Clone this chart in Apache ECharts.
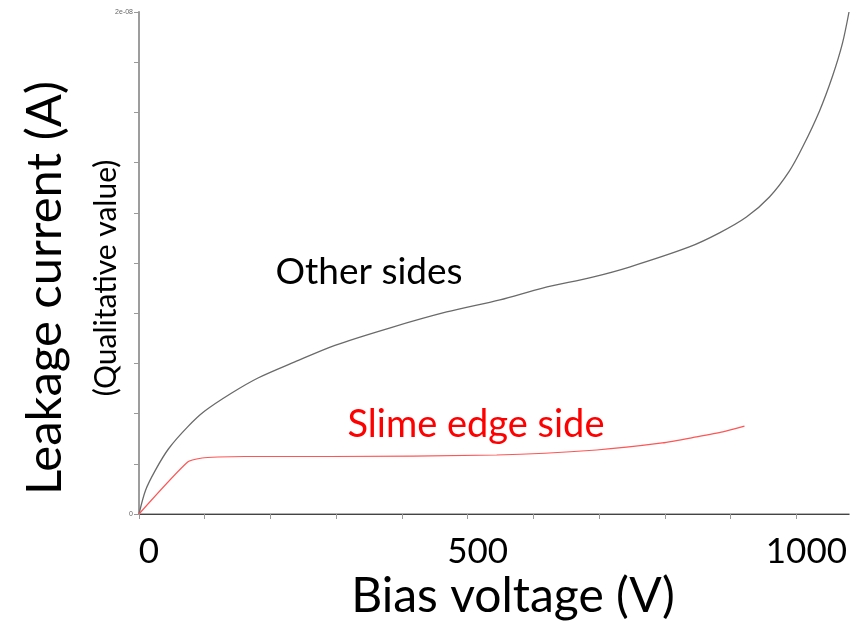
<!DOCTYPE html>
<html>
<head>
<meta charset="utf-8">
<script src="https://cdn.jsdelivr.net/npm/echarts@6/dist/echarts.min.js"></script>
<style>
  html, body { margin: 0; padding: 0; background: #fff; }
  #chart { width: 861px; height: 622px; }
</style>
</head>
<body>
<div id="chart"></div>
<script>
// bias voltage (V) / leakage current in units of 1e-9 A
const otherV = [0, 10, 25, 45, 74, 100, 141, 181, 237, 298, 381, 468, 549, 614, 690, 746, 837, 883, 924, 959, 989, 1010, 1035, 1055, 1070, 1080]
const otherI = [0, 0.95, 1.75, 2.6, 3.47, 4.10, 4.82, 5.42, 6.06, 6.72, 7.41, 8.05, 8.53, 9.0, 9.44, 9.84, 10.64, 11.2, 11.83, 12.63, 13.65, 14.65, 16.05, 17.45, 18.75, 20]

const slimV = [0, 74, 96, 120, 161, 290, 544, 696, 796, 848, 888, 921]
const slimI = [0, 2.07, 2.23, 2.27, 2.29, 2.29, 2.35, 2.55, 2.83, 3.07, 3.27, 3.5]

const xTickLabels = { 0: '0', 500: '500', 1000: '1000' }
const yTickLabels = { 0: '0', 20: '2e-08' }

const FONT = 'Lato, "Open Sans", sans-serif'

const chart = echarts.init(document.getElementById('chart'))

const zip = (xs, ys) => xs.map((x, i) => [x, ys[i]])

chart.setOption({
  animation: false,
  grid: { left: 139, right: 12, top: 12, bottom: 108 },
  xAxis: [
    {
      type: 'value',
      min: 0,
      max: 1080,
      interval: 100,
      axisLine: { lineStyle: { color: '#999', width: 1.5 } },
      axisTick: { length: 5, lineStyle: { color: '#999' } },
      splitLine: { show: false },
      axisLabel: {
        showMaxLabel: false,
        margin: 20,
        padding: [0, 0, 0, 20],
        fontFamily: FONT,
        fontSize: 35,
        color: '#000',
        formatter: (v) => xTickLabels[v] || '',
      },
    },
    {
      type: 'value',
      position: 'top',
      min: 0,
      max: 1080,
      axisLine: { show: true, lineStyle: { color: '#444', width: 1 } },
      axisTick: { show: false },
      axisLabel: { show: false },
      splitLine: { show: false },
    },
  ],
  yAxis: [
    {
      type: 'value',
      min: 0,
      max: 20,
      interval: 2,
      axisLine: { show: true, lineStyle: { color: '#aaa', width: 2 } },
      axisTick: { show: true, length: 5, lineStyle: { color: '#999' } },
      splitLine: { show: false },
      axisLabel: {
        margin: 6,
        fontSize: 7,
        color: '#666',
        formatter: (v) => yTickLabels[v] || '',
      },
    },
    {
      type: 'value',
      position: 'right',
      min: 0,
      max: 20,
      axisLine: { show: true, lineStyle: { color: '#999', width: 1.5 } },
      axisTick: { show: false },
      axisLabel: { show: false },
      splitLine: { show: false },
    },
  ],
  series: [
    {
      name: 'Other sides',
      type: 'line',
      data: zip(otherV, otherI),
      smooth: 0.3,
      symbol: 'none',
      lineStyle: { color: '#6a6a6a', width: 1.3 },
    },
    {
      name: 'Slime edge side',
      type: 'line',
      data: zip(slimV, slimI),
      smooth: 0.2,
      symbol: 'none',
      lineStyle: { color: '#ff5555', width: 1.2 },
    },
  ],
  graphic: [
    {
      type: 'text', x: 45, y: 288, rotation: Math.PI / 2,
      style: { text: 'Leakage current (A)', font: `49px ${FONT}`, fill: '#000', align: 'center', verticalAlign: 'middle' },
    },
    {
      type: 'text', x: 106, y: 278, rotation: Math.PI / 2,
      style: { text: '(Qualitative value)', font: `30px ${FONT}`, fill: '#000', align: 'center', verticalAlign: 'middle' },
    },
    {
      type: 'text', x: 369, y: 272,
      style: { text: 'Other sides', font: `37px ${FONT}`, fill: '#000', align: 'center', verticalAlign: 'middle' },
    },
    {
      type: 'text', x: 476, y: 425,
      style: { text: 'Slime edge side', font: `38px ${FONT}`, fill: '#ff0000', align: 'center', verticalAlign: 'middle' },
    },
    {
      type: 'text', x: 513, y: 597,
      style: { text: 'Bias voltage (V)', font: `48px ${FONT}`, fill: '#000', align: 'center', verticalAlign: 'middle' },
    },
  ],
})
</script>
</body>
</html>
